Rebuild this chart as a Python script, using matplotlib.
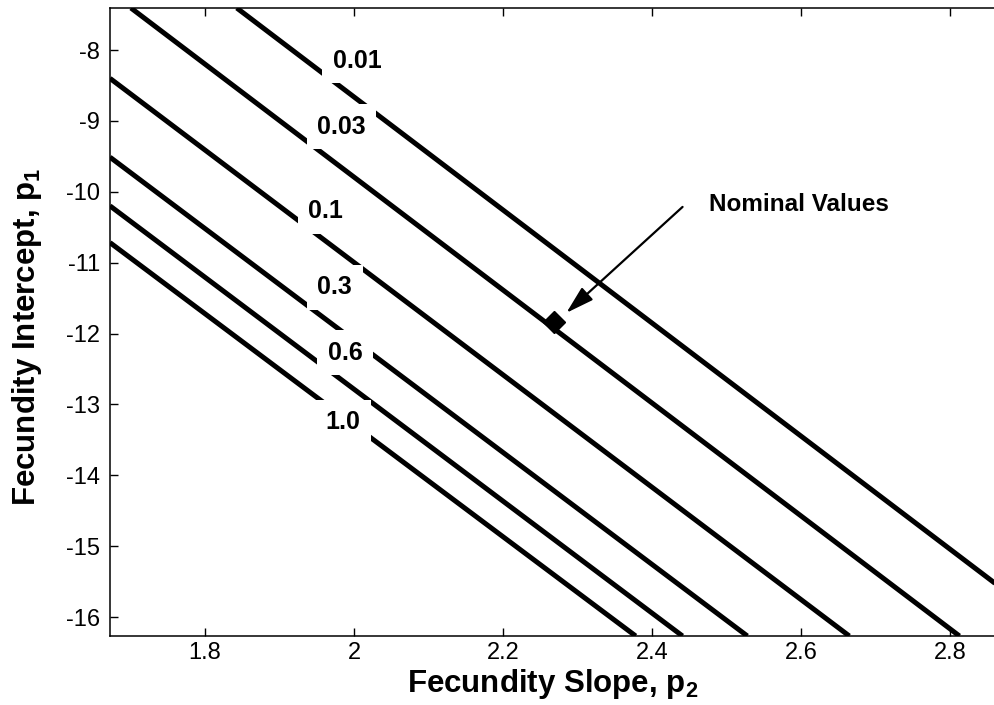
import matplotlib
matplotlib.use("Agg")
import matplotlib.pyplot as plt
from matplotlib.ticker import FixedLocator, FuncFormatter

plt.rcParams['font.family'] = ['Liberation Sans', 'DejaVu Sans']
plt.rcParams['axes.unicode_minus'] = False
plt.rcParams['mathtext.fontset'] = 'custom'
plt.rcParams['mathtext.rm'] = 'Liberation Sans'
plt.rcParams['mathtext.bf'] = 'Liberation Sans:bold'

# Contour levels and where each contour crosses p1 = -8 and p1 = -16
levels = ['0.01', '0.03', '0.1', '0.3', '0.6', '1.0']
p1_hi, p1_lo = -8.0, -16.0
p2_at_p1_hi = [1.917, 1.775, 1.622, 1.481, 1.394, 1.327]
p2_at_p1_lo = [2.920, 2.779, 2.631, 2.494, 2.407, 2.344]

# Contour label anchor positions
label_p2 = [2.004, 1.983, 1.962, 1.974, 1.988, 1.985]
label_p1 = [-8.155, -9.086, -10.272, -11.344, -12.275, -13.249]

# Nominal parameter values
nominal_p2 = 2.268
nominal_p1 = -11.84
annot_text = 'Nominal Values'
annot_tail = (2.441, -10.214)
annot_tip = (2.285, -11.709)
annot_text_pos = (2.477, -10.186)

x_ticks = [1.8, 2.0, 2.2, 2.4, 2.6, 2.8]
y_ticks = [-8, -9, -10, -11, -12, -13, -14, -15, -16]
x_lim = (1.6725, 2.8711)
y_lim = (-16.268, -7.4074)

fig = plt.figure(figsize=(9.95, 7.05), dpi=100)
ax = fig.add_axes([110 / 995, (705 - 636) / 705, (1003 - 110) / 995, (636 - 8) / 705])

for hi, lo in zip(p2_at_p1_hi, p2_at_p1_lo):
    ax.axline((hi, p1_hi), (lo, p1_lo), color='black', lw=3.6,
              solid_capstyle='butt', zorder=2)

for txt, x, y in zip(levels, label_p2, label_p1):
    ax.text(x, y, txt, ha='center', va='center', fontsize=18, fontweight='bold',
            zorder=3,
            bbox=dict(boxstyle='square,pad=0.42', facecolor='white', edgecolor='none'))

ax.plot([nominal_p2], [nominal_p1], marker='D', color='black', markersize=11,
        linestyle='none', zorder=5)

ax.annotate('', xy=annot_tip, xytext=annot_tail,
            arrowprops=dict(arrowstyle='-|>,head_length=0.95,head_width=0.28',
                            color='black', lw=1.6, mutation_scale=18,
                            shrinkA=0, shrinkB=0),
            zorder=6)
ax.text(*annot_text_pos, annot_text, ha='left', va='center', fontsize=17.5,
        fontweight='bold', zorder=6)

ax.set_xlim(*x_lim)
ax.set_ylim(*y_lim)
ax.xaxis.set_major_locator(FixedLocator(x_ticks))
ax.yaxis.set_major_locator(FixedLocator(y_ticks))
fmt = FuncFormatter(lambda v, _: f'{v:g}')
ax.xaxis.set_major_formatter(fmt)
ax.yaxis.set_major_formatter(fmt)
ax.tick_params(axis='both', which='major', direction='in', length=6, width=1,
               top=True, right=True, labelsize=17)
ax.tick_params(axis='y', pad=7)
ax.tick_params(axis='x', pad=4)
for s in ax.spines.values():
    s.set_linewidth(1.1)

fig.text(553 / 995, 1 - 684 / 705, r'Fecundity Slope, p$_\mathbf{2}$',
         ha='center', va='center', fontsize=22.5, fontweight='bold')
fig.text(27 / 995, 1 - 337 / 705, r'Fecundity Intercept, p$_\mathregular{1}$',
         ha='center', va='center', rotation=90, fontsize=22.5, fontweight='bold')

fig.savefig('out.png', dpi=100, facecolor='white')
